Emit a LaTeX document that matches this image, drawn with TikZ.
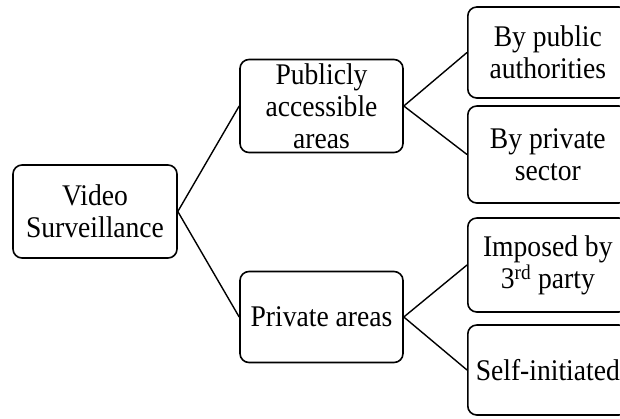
\documentclass[tikz,border=0pt]{standalone}
\usepackage{fontspec}
\setmainfont{Liberation Serif}[FakeStretch=0.92]
\usetikzlibrary{positioning}

\tikzset{
  box/.style={draw, line width=1.6pt, rounded corners=9pt, align=center,
    inner sep=0pt, font=\fontsize{30}{32}\selectfont},
  link/.style={line width=1.4pt}
}

\begin{document}
\begin{tikzpicture}[x=1pt, y=-1pt]
  \useasboundingbox (0,0) rectangle (620,418);

  \node[box, minimum width=164pt, minimum height=93pt] (vs) at (95,211.5) {Video\\Surveillance};

  \node[box, minimum width=163pt, minimum height=93pt] (pub) at (321.5,106) {Publicly\\accessible\\areas};
  \node[box, minimum width=163pt, minimum height=91pt] (priv) at (321.5,317) {Private areas};

  \node[box, minimum width=160pt, minimum height=91pt, anchor=west] (auth) at (467,52.5) {By public\\authorities};
  \node[box, minimum width=160pt, minimum height=97pt, anchor=west] (sect) at (467,154.5) {By private\\sector};
  \node[box, minimum width=160pt, minimum height=94pt, anchor=west] (third) at (467,265) {Imposed by\\3\textsuperscript{rd} party};
  \node[box, minimum width=160pt, minimum height=90pt, anchor=west] (self) at (467,370) {Self-initiated};

  \draw[link] (vs.east) -- (pub.west);
  \draw[link] (vs.east) -- (priv.west);
  \draw[link] (pub.east) -- (auth.west);
  \draw[link] (pub.east) -- (sect.west);
  \draw[link] (priv.east) -- (third.west);
  \draw[link] (priv.east) -- (self.west);
\end{tikzpicture}
\end{document}
